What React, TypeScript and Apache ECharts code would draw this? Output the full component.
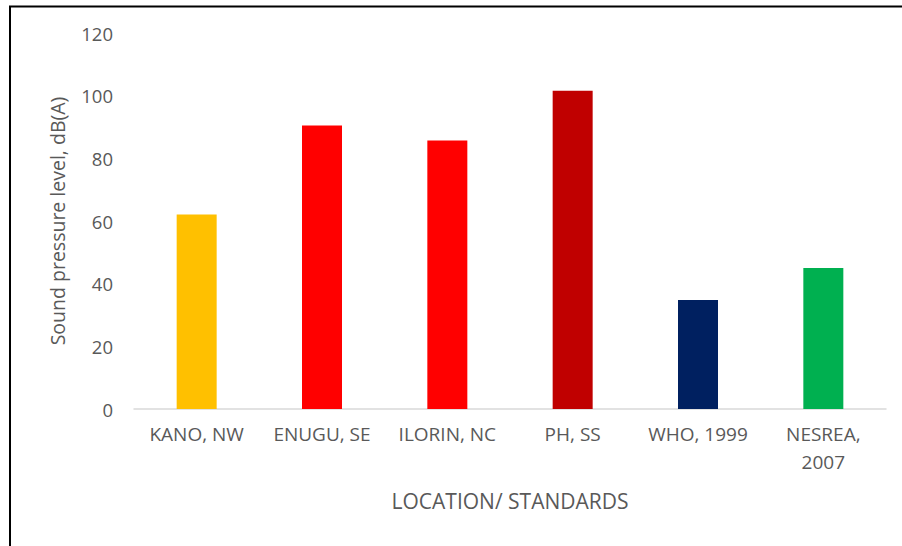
import React, { useEffect, useRef } from "react";
import * as echarts from "echarts";

const categories = ["KANO, NW", "ENUGU, SE", "ILORIN, NC", "PH, SS", "WHO, 1999", "NESREA, 2007"];
const values = [62.1, 90.5, 85.7, 101.6, 34.8, 45.0];
const barColors = ["#FFC000", "#FF0000", "#FF0000", "#C00000", "#002060", "#00B050"];
const yTicks = { min: 0, max: 120, interval: 20 };
const xTitle = "LOCATION/ STANDARDS";
const yTitle = "Sound pressure level, dB(A)";

const FONT = "'Open Sans', 'Noto Sans', sans-serif";
const TEXT = "#595959";

export default function App() {
  const ref = useRef<HTMLDivElement>(null);
  useEffect(() => {
    document.body.style.margin = "0";
    if (!ref.current) return;
    const chart = echarts.init(ref.current, undefined, { renderer: "svg" });
    chart.setOption({
      animation: false,
      backgroundColor: "#ffffff",
      textStyle: { fontFamily: FONT },
      grid: { left: 134, right: 16, top: 33, bottom: 137, containLabel: false },
      xAxis: {
        type: "category",
        data: categories,
        name: xTitle,
        nameLocation: "middle",
        nameGap: 81,
        nameTextStyle: { color: TEXT, fontSize: 21, fontFamily: FONT },
        axisLine: { lineStyle: { color: "#D9D9D9", width: 1.5 } },
        axisTick: { show: false },
        axisLabel: {
          interval: 0,
          color: TEXT,
          fontSize: 19,
          fontFamily: FONT,
          lineHeight: 28,
          margin: 11,
          formatter: (v: string) => (v.length > 10 ? v.replace(", ", ",\n") : v),
        },
      },
      yAxis: {
        type: "value",
        min: yTicks.min,
        max: yTicks.max,
        interval: yTicks.interval,
        name: yTitle,
        nameLocation: "middle",
        nameGap: 67,
        nameRotate: 90,
        nameTextStyle: { color: TEXT, fontSize: 19.5, fontFamily: FONT },
        axisLine: { show: false },
        axisTick: { show: false },
        splitLine: { show: false },
        axisLabel: { color: TEXT, fontSize: 18.5, fontFamily: FONT, margin: 21 },
      },
      series: [
        {
          type: "bar",
          data: values.map((v, i) => ({ value: v, itemStyle: { color: barColors[i] } })),
          barWidth: 40,
        },
      ],
      graphic: [
        { type: "line", shape: { x1: 10, y1: 6, x2: 10, y2: 546 }, style: { stroke: "#000", lineWidth: 2 } },
        { type: "line", shape: { x1: 9, y1: 6.5, x2: 902, y2: 6.5 }, style: { stroke: "#000", lineWidth: 2 } },
      ],
    });
    return () => chart.dispose();
  }, []);
  return <div ref={ref} style={{ width: 902, height: 546 }} />;
}
